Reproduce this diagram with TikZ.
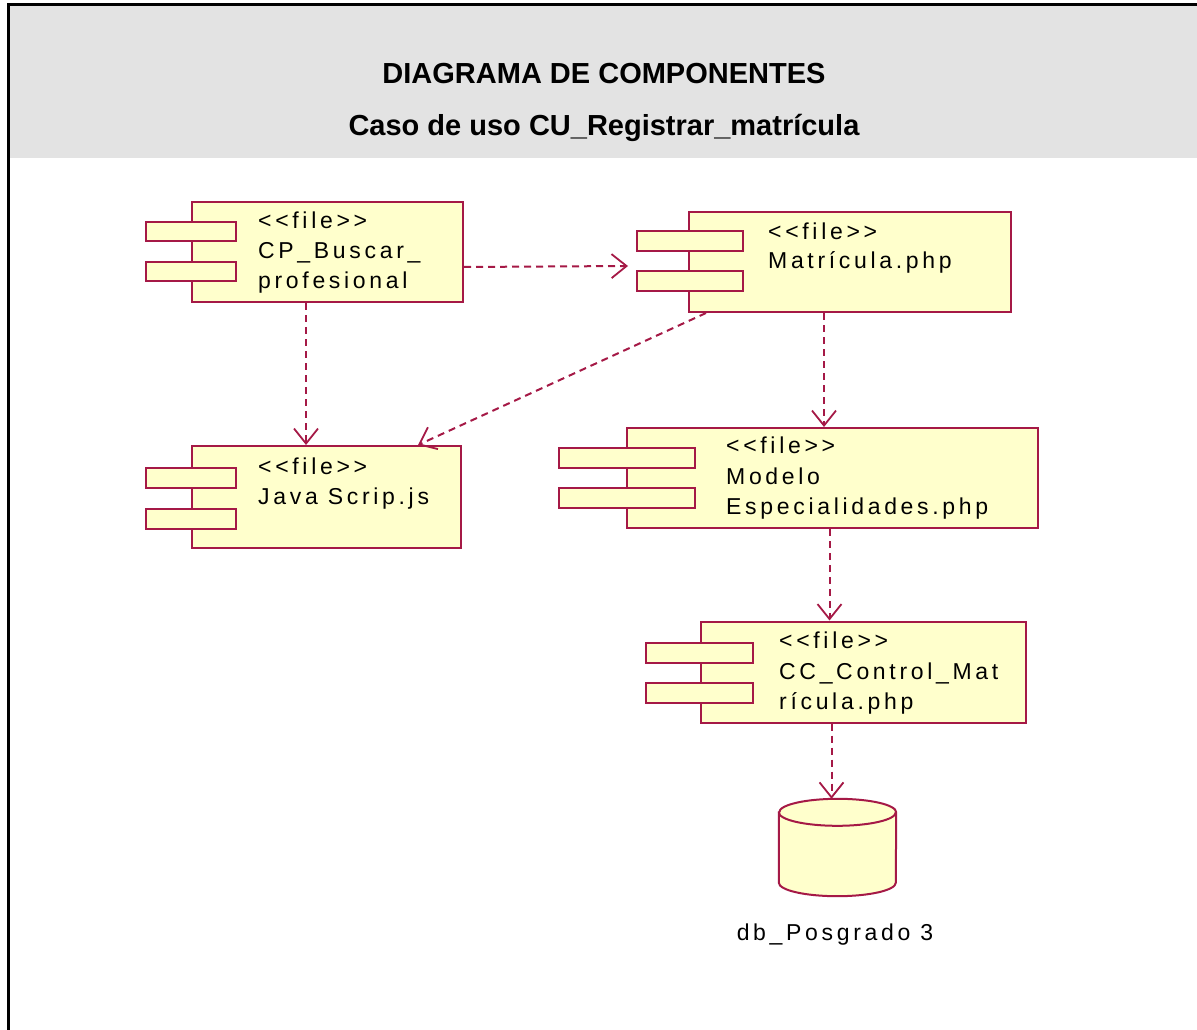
\documentclass[tikz,border=0pt]{standalone}
\usepackage{fontspec}
\setmainfont{Liberation Sans}
\newfontfamily\umlfont[LetterSpace=16]{Liberation Sans}
\usetikzlibrary{arrows.meta,calc}
\definecolor{umlred}{RGB}{165,25,70}
\definecolor{umlfill}{RGB}{255,255,204}
\definecolor{hdrgrey}{RGB}{227,227,227}
\begin{document}
\begin{tikzpicture}[x=1pt,y=-1pt,
 body/.style={draw=umlred,fill=umlfill,line width=2pt,inner sep=0pt,rectangle},
 port/.style={draw=umlred,fill=umlfill,line width=2pt,inner sep=0pt,rectangle},
 lbl/.style={font=\umlfont\fontsize{23}{28}\selectfont,anchor=base west,inner sep=0pt},
 ttl/.style={font=\bfseries\fontsize{29}{34}\selectfont,anchor=base,inner sep=0pt},
 dep/.style={draw=umlred,line width=2pt,dash pattern=on 7pt off 5pt,-{Straight Barb[length=15pt,width=24pt,line width=1.8pt]}},
 cyl/.style={draw=umlred,fill=umlfill,line width=2pt}]
\useasboundingbox (0,0) rectangle (1197,1030);
\fill[white] (0,0) rectangle (1197,1030);
% header
\fill[hdrgrey] (9,6) rectangle (1197,158);
\draw[black,line width=3pt] (8,1030) -- (8,5) -- (1197,5);
\node[ttl] (t1) at (604,84) {DIAGRAMA DE COMPONENTES};
\node[ttl] (t2) at (604,136) {Caso de uso CU\_Registrar\_matrícula};
% CP_Buscar_profesional
\node[body,minimum width=271pt,minimum height=100pt] (cp) at (327.5,252) {};
\node[port,minimum width=90pt,minimum height=19pt] (cpa) at (191,231.5) {};
\node[port,minimum width=90pt,minimum height=19pt] (cpb) at (191,271.5) {};
\node[lbl] (cps) at (258,228) {<{}<file>{}>};
\node[lbl] (cpn1) at (258,258) {CP\_Buscar\_};
\node[lbl] (cpn2) at (258,288) {profesional};
% Matricula.php
\node[body,minimum width=322pt,minimum height=100pt] (mat) at (850,262) {};
\node[port,minimum width=106pt,minimum height=20pt] (mata) at (690,241) {};
\node[port,minimum width=106pt,minimum height=20pt] (matb) at (690,281) {};
\node[lbl] (mats) at (768,239) {<{}<file>{}>};
\node[lbl] (matn) at (768,268) {Matrícula.php};
% Java Scrip.js
\node[body,minimum width=269pt,minimum height=102pt] (js) at (326.5,497) {};
\node[port,minimum width=90pt,minimum height=20pt] (jsa) at (191,478) {};
\node[port,minimum width=90pt,minimum height=20pt] (jsb) at (191,519) {};
\node[lbl] (jss) at (258,474) {<{}<file>{}>};
\node[lbl] (jsn) at (258,504) {Java Scrip.js};
% Modelo Especialidades.php
\node[body,minimum width=411pt,minimum height=100pt] (mod) at (832.5,478) {};
\node[port,minimum width=136pt,minimum height=20pt] (moda) at (627,457.5) {};
\node[port,minimum width=136pt,minimum height=20pt] (modb) at (627,498) {};
\node[lbl] (mods) at (726,453) {<{}<file>{}>};
\node[lbl] (modn1) at (726,484) {Modelo};
\node[lbl] (modn2) at (726,514) {Especialidades.php};
% CC_Control_Matricula.php
\node[body,minimum width=325pt,minimum height=101pt] (cc) at (863.5,672) {};
\node[port,minimum width=107pt,minimum height=20pt] (cca) at (699.5,653) {};
\node[port,minimum width=107pt,minimum height=20pt] (ccb) at (699.5,693) {};
\node[lbl] (ccs) at (779,648) {<{}<file>{}>};
\node[lbl] (ccn1) at (779,679) {CC\_Control\_Mat};
\node[lbl] (ccn2) at (779,709) {rícula.php};
% database
\node[inner sep=0pt,minimum width=117pt,minimum height=97pt] (db) at (837.5,847.5) {};
\draw[cyl] ([yshift=-13.5pt]db.north west) -- ([yshift=13.5pt]db.south west)
  arc[start angle=180,end angle=360,x radius=58.5pt,y radius=13.5pt]
  -- ([yshift=-13.5pt]db.north east)
  arc[start angle=0,end angle=180,x radius=58.5pt,y radius=13.5pt] -- cycle;
\draw[draw=umlred,line width=2pt] ([yshift=-13.5pt]db.north west)
  arc[start angle=180,end angle=360,x radius=58.5pt,y radius=13.5pt];
\node[lbl,anchor=base] (dbl) at (835,940) {db\_Posgrado 3};
% dependencies
\draw[dep] ([yshift=-15pt]cp.east) -- ([xshift=-8pt,yshift=4pt]matb.north west);
\draw[dep] ([xshift=-21.5pt]cp.south) -- ([xshift=-21.5pt]cp.south |- js.north);
\draw[dep] ([xshift=-144pt]mat.south) -- ([xshift=-44pt]js.north east);
\draw[dep] ([xshift=-26pt]mat.south) -- ([xshift=-26pt]mat.south |- mod.north);
\draw[dep] ([xshift=-3pt]mod.south) -- ([xshift=-3pt]mod.south |- cc.north);
\draw[dep] ([xshift=-32pt]cc.south) -- ([xshift=-32pt]cc.south |- db.north);
\end{tikzpicture}
\end{document}
